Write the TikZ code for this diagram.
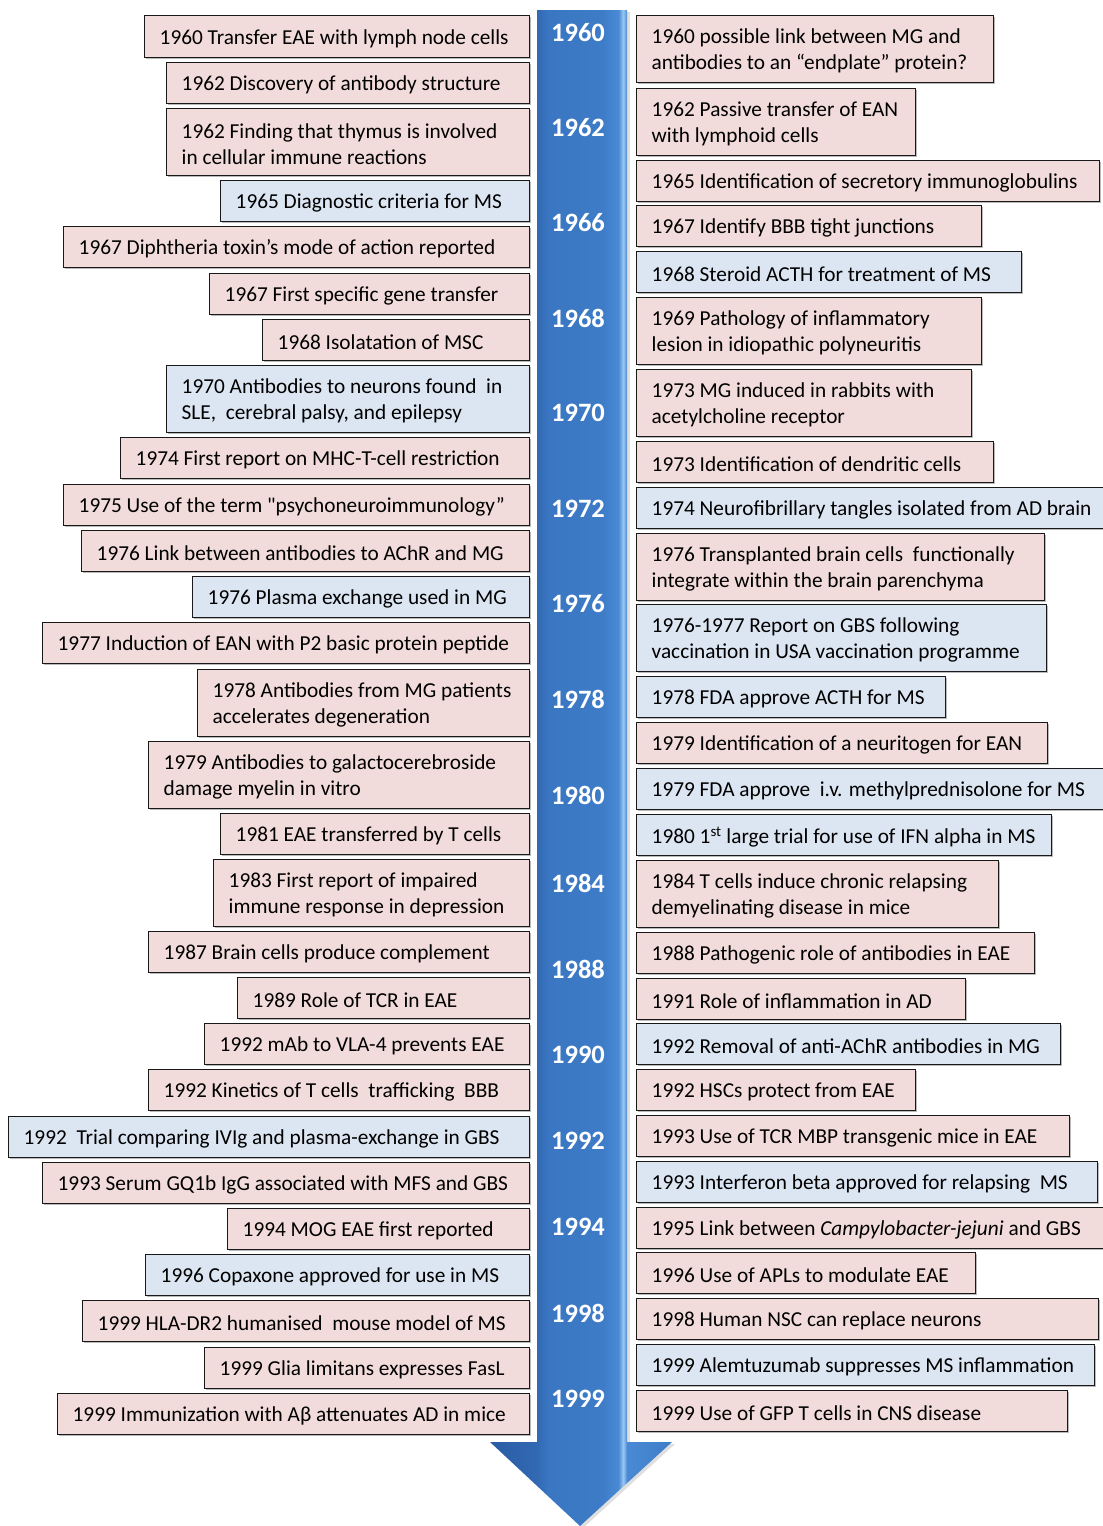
\documentclass[tikz,border=0pt]{standalone}
\usepackage{fontspec}
\setmainfont{Carlito}
\usetikzlibrary{shadows}
\definecolor{pk}{HTML}{F2DCDB}
\definecolor{bl}{HTML}{DCE6F2}
\definecolor{c0}{HTML}{2A5CA4}
\definecolor{c1}{HTML}{3269B3}
\definecolor{c2}{HTML}{3A76C2}
\definecolor{c3}{HTML}{3E7CC8}
\definecolor{c4}{HTML}{4A8AD4}
\definecolor{c5}{HTML}{9CC8F2}
\pgfdeclarehorizontalshading{arrowsh}{100bp}{color(0bp)=(c0); color(25bp)=(c0); color(37.9bp)=(c1); color(41bp)=(c2); color(56bp)=(c3); color(60.3bp)=(c4); color(61.6bp)=(c5); color(62.6bp)=(c4); color(75bp)=(c3); color(100bp)=(c3)}
\tikzset{
  tbox/.style={draw=black!90, line width=1.3pt, rectangle, anchor=north west, inner sep=0pt,
     drop shadow={shadow xshift=1.6pt, shadow yshift=-1.6pt, opacity=0.45, fill=black!60}},
  tlab/.style={anchor=west, align=left, inner sep=0pt, font=\fontsize{21.3}{26}\selectfont},
  yr/.style={text=white, font=\fontsize{26.5}{30}\selectfont\bfseries, inner sep=0pt}
}
\newcommand\tb[7]{%
  \pgfmathsetmacro\bw{#4-#2}\pgfmathsetmacro\bh{#5-#3}%
  \node[tbox, fill=#6, minimum width=\bw pt, minimum height=\bh pt] (#1) at (#2,#3) {};
  \node[tlab] (#1t) at ([xshift=15.5pt,yshift=-2pt]#1.west) {#7};}
\begin{document}
\begin{tikzpicture}[x=1pt,y=-1pt]
\useasboundingbox (0,0) rectangle (1103,1526);
% arrow
\path[shading=arrowsh, drop shadow={shadow xshift=3pt, shadow yshift=-2pt, opacity=0.25}]
  (537,10) -- (627,10) -- (627,1442) -- (672,1442) -- (580,1526) -- (490,1442) -- (537,1442) -- cycle;
% years
\node[yr] (y1960) at (578,33) {1960};
\node[yr] (y1962) at (578,128) {1962};
\node[yr] (y1966) at (578,223) {1966};
\node[yr] (y1968) at (578,318) {1968};
\node[yr] (y1970) at (578,413) {1970};
\node[yr] (y1972) at (578,509) {1972};
\node[yr] (y1976) at (578,604) {1976};
\node[yr] (y1978) at (578,699) {1978};
\node[yr] (y1980) at (578,795) {1980};
\node[yr] (y1984) at (578,883) {1984};
\node[yr] (y1988) at (578,969) {1988};
\node[yr] (y1990) at (578,1055) {1990};
\node[yr] (y1992) at (578,1141) {1992};
\node[yr] (y1994) at (578,1227) {1994};
\node[yr] (y1998) at (578,1313) {1998};
\node[yr] (y1999) at (578,1399) {1999};
% left column
\tb{L1}{144}{15}{529}{57}{pk}{1960 Transfer EAE with lymph node cells}
\tb{L2}{166}{62}{529}{103}{pk}{1962 Discovery of antibody structure}
\tb{L3}{166}{108}{529}{175}{pk}{1962 Finding that thymus is involved\\in cellular immune reactions}
\tb{L4}{220}{180}{529}{221}{bl}{1965 Diagnostic criteria for MS}
\tb{L5}{63}{226}{529}{267}{pk}{1967 Diphtheria toxin’s mode of action reported}
\tb{L6}{209}{273}{529}{314}{pk}{1967 First specific gene transfer}
\tb{L7}{262}{319}{529}{360}{pk}{1968 Isolatation of MSC}
\tb{L8}{166}{365}{529}{432}{bl}{1970 Antibodies to neurons found\ \ in\\SLE,\ \ cerebral palsy, and epilepsy}
\tb{L9}{120}{437}{529}{478}{pk}{1974 First report on MHC-T-cell restriction}
\tb{L10}{63}{484}{529}{525}{pk}{1975 Use of the term \textquotedbl psychoneuroimmunology”}
\tb{L11}{81}{530}{529}{571}{pk}{1976 Link between antibodies to AChR and MG}
\tb{L12}{192}{576}{529}{617}{bl}{1976 Plasma exchange used in MG}
\tb{L13}{42}{622}{529}{663}{pk}{1977 Induction of EAN with P2 basic protein peptide}
\tb{L14}{197}{669}{529}{736}{pk}{1978 Antibodies from MG patients\\accelerates degeneration}
\tb{L15}{148}{741}{529}{808}{pk}{1979 Antibodies to galactocerebroside\\damage myelin in vitro}
\tb{L16}{220}{813}{529}{854}{pk}{1981 EAE transferred by T cells}
\tb{L17}{213}{859}{529}{926}{pk}{1983 First report of impaired\\immune response in depression}
\tb{L18}{148}{931}{529}{972}{pk}{1987 Brain cells produce complement}
\tb{L19}{237}{977}{529}{1018}{pk}{1989 Role of TCR in EAE}
\tb{L20}{204}{1023}{529}{1064}{pk}{1992 mAb to VLA-4 prevents EAE}
\tb{L21}{148}{1069}{529}{1110}{pk}{1992 Kinetics of T cells\ \ trafficking\ \ BBB}
\tb{L22}{8}{1116}{529}{1157}{bl}{1992\ \ Trial comparing IVIg and plasma-exchange in GBS}
\tb{L23}{42}{1162}{529}{1203}{pk}{1993 Serum GQ1b IgG associated with MFS and GBS}
\tb{L24}{227}{1208}{529}{1249}{pk}{1994 MOG EAE first reported}
\tb{L25}{145}{1254}{529}{1295}{bl}{1996 Copaxone approved for use in MS}
\tb{L26}{82}{1300}{529}{1341}{pk}{1999 HLA-DR2 humanised\ \ mouse model of MS}
\tb{L27}{204}{1347}{529}{1388}{pk}{1999 Glia limitans expresses FasL}
\tb{L28}{57}{1393}{529}{1434}{pk}{1999 Immunization with Aβ attenuates AD in mice}
% right column
\tb{R1}{636}{15}{993}{82}{pk}{1960 possible link between MG and\\antibodies to an “endplate” protein?}
\tb{R2}{636}{88}{915}{155}{pk}{1962 Passive transfer of EAN\\with lymphoid cells}
\tb{R3}{636}{160}{1099}{201}{pk}{1965 Identification of secretory immunoglobulins}
\tb{R4}{636}{205}{981}{246}{pk}{1967 Identify BBB tight junctions}
\tb{R5}{636}{251}{1021}{292}{bl}{1968 Steroid ACTH for treatment of MS}
\tb{R6}{636}{297}{981}{364}{pk}{1969 Pathology of inflammatory\\lesion in idiopathic polyneuritis}
\tb{R7}{636}{369}{971}{436}{pk}{1973 MG induced in rabbits with\\acetylcholine receptor}
\tb{R8}{636}{441}{993}{482}{pk}{1973 Identification of dendritic cells}
\tb{R9}{636}{487}{1110}{528}{bl}{1974 Neurofibrillary tangles isolated from AD brain}
\tb{R10}{636}{533}{1044}{600}{pk}{1976 Transplanted brain cells\ \ functionally\\integrate within the brain parenchyma}
\tb{R11}{636}{604}{1046}{671}{bl}{1976-1977 Report on GBS following\\vaccination in USA vaccination programme}
\tb{R12}{636}{676}{945}{717}{bl}{1978 FDA approve ACTH for MS}
\tb{R13}{636}{722}{1047}{763}{pk}{1979 Identification of a neuritogen for EAN}
\tb{R14}{636}{768}{1110}{809}{bl}{1979 FDA approve\ \ i.v. methylprednisolone for MS}
\tb{R15}{636}{814}{1051}{855}{bl}{1980 1\textsuperscript{st} large trial for use of IFN alpha in MS}
\tb{R16}{636}{860}{998}{927}{pk}{1984 T cells induce chronic relapsing\\demyelinating disease in mice}
\tb{R17}{636}{932}{1034}{973}{pk}{1988 Pathogenic role of antibodies in EAE}
\tb{R18}{636}{978}{965}{1019}{pk}{1991 Role of inflammation in AD}
\tb{R19}{636}{1023}{1060}{1064}{bl}{1992 Removal of anti-AChR antibodies in MG}
\tb{R20}{636}{1069}{915}{1110}{pk}{1992 HSCs protect from EAE}
\tb{R21}{636}{1115}{1069}{1156}{pk}{1993 Use of TCR MBP transgenic mice in EAE}
\tb{R22}{636}{1161}{1097}{1202}{bl}{1993 Interferon beta approved for relapsing\ \ MS}
\tb{R23}{636}{1207}{1110}{1248}{pk}{1995 Link between \textit{Campylobacter-jejuni} and GBS}
\tb{R24}{636}{1252}{975}{1293}{pk}{1996 Use of APLs to modulate EAE}
\tb{R25}{636}{1298}{1098}{1339}{pk}{1998 Human NSC can replace neurons}
\tb{R26}{636}{1344}{1094}{1385}{bl}{1999 Alemtuzumab suppresses MS inflammation}
\tb{R27}{636}{1390}{1067}{1431}{pk}{1999 Use of GFP T cells in CNS disease}
\end{tikzpicture}
\end{document}
